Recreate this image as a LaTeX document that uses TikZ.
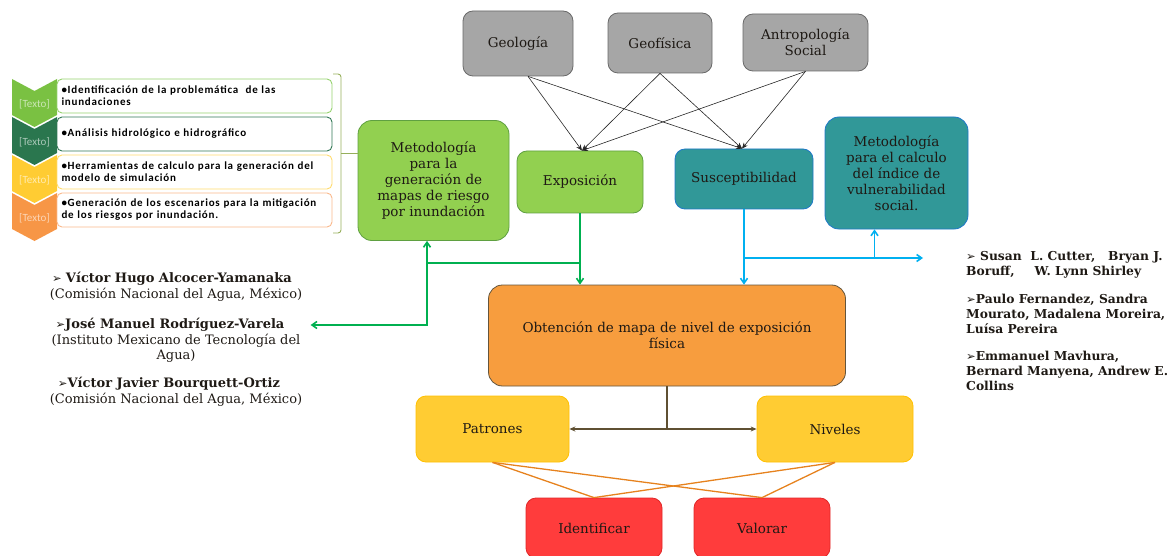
\documentclass[tikz,border=0pt]{standalone}
\usepackage{fontspec}
\setmainfont{DejaVu Serif}
\newfontfamily\listafont[LetterSpace=7]{Carlito}
\newfontfamily\chevfont{Carlito}
\newfontfamily\simbfont{DejaVu Sans}
\usepackage{tikz}
\usetikzlibrary{arrows.meta,calc}
\definecolor{gris}{RGB}{166,166,166}
\definecolor{grisborde}{RGB}{105,105,105}
\definecolor{verdeclaro}{RGB}{146,208,80}
\definecolor{verdeborde}{RGB}{95,160,65}
\definecolor{turquesa}{RGB}{49,152,152}
\definecolor{azulborde}{RGB}{30,120,200}
\definecolor{naranja}{RGB}{247,157,62}
\definecolor{naranjaborde}{RGB}{100,85,60}
\definecolor{cafe}{RGB}{95,80,50}
\definecolor{amarillo}{RGB}{255,204,51}
\definecolor{amarilloborde}{RGB}{255,192,0}
\definecolor{rojo}{RGB}{255,60,60}
\definecolor{rojoborde}{RGB}{225,40,40}
\definecolor{lineaverde}{RGB}{0,176,80}
\definecolor{lineaazul}{RGB}{0,176,240}
\definecolor{lineanaranja}{RGB}{230,130,30}
\definecolor{llave}{RGB}{150,175,90}
\definecolor{paso1}{RGB}{122,193,66}
\definecolor{paso2}{RGB}{42,118,78}
\definecolor{paso3}{RGB}{255,204,51}
\definecolor{paso4}{RGB}{247,150,70}
\definecolor{marco1}{RGB}{150,210,110}
\definecolor{marco2}{RGB}{50,120,85}
\definecolor{marco3}{RGB}{255,220,110}
\definecolor{marco4}{RGB}{250,185,140}
\definecolor{tinta}{RGB}{30,25,20}
\newcommand{\flecha}{{\simbfont\fontsize{11.5}{10}\selectfont ➢}}

\begin{document}
\begin{tikzpicture}[x=1pt, y=-1pt,
    caja/.style={rounded corners=10pt, align=center, line width=0.8pt, text=tinta,
      font=\fontsize{13.5}{16}\selectfont, inner sep=2pt},
    cajagris/.style={caja, fill=gris, draw=grisborde},
    cajaverde/.style={caja, fill=verdeclaro, draw=verdeborde},
    cajaturq/.style={caja, fill=turquesa, draw=azulborde},
    cajanaranja/.style={caja, fill=naranja, draw=naranjaborde},
    cajaamarilla/.style={caja, fill=amarillo, draw=amarilloborde},
    cajaroja/.style={caja, fill=rojo, draw=rojoborde},
    cajalista/.style={rounded corners=5pt, fill=white, line width=0.9pt,
      minimum width=275pt, minimum height=34pt, text width=266pt, align=left,
      font=\listafont\bfseries\fontsize{11}{12}\selectfont, inner sep=3pt},
    textochev/.style={text=white, text opacity=0.6, font=\chevfont\fontsize{11}{12}\selectfont},
    autor/.style={align=center, text=tinta, font=\fontsize{13}{15.5}\selectfont, inner sep=2pt},
    autorder/.style={align=left, text=tinta, font=\bfseries\fontsize{12.3}{15}\selectfont, inner sep=0pt, anchor=north west},
    flechanegra/.style={-{Stealth[length=6pt,width=5pt]}, black!85, line width=0.6pt},
    flechaverde/.style={-{Straight Barb[length=5pt,width=7pt]}, lineaverde, line width=1.6pt},
    flechaazul/.style={-{Straight Barb[length=5pt,width=7pt]}, lineaazul, line width=1.6pt},
    flechacafe/.style={-{Stealth[length=6pt,width=5pt]}, cafe, line width=1.4pt}]

  \useasboundingbox (0,0) rectangle (1172,556);

  % Disciplinas
  \node[cajagris, minimum width=110pt, minimum height=65pt] (geo) at (518,43.5) {Geología};
  \node[cajagris, minimum width=104pt, minimum height=60pt] (geof) at (660,43) {Geofísica};
  \node[cajagris, minimum width=125pt, minimum height=57pt] (antro) at (805.5,42.5) {Antropología\\Social};

  % Metodologias y componentes
  \node[cajaverde, minimum width=151pt, minimum height=120pt, rounded corners=14pt] (meto) at (433.5,180.5)
    {Metodología\\para la\\generación de\\mapas de riesgo\\por inundación};
  \node[cajaverde, minimum width=126pt, minimum height=62pt] (expo) at (580,182) {Exposición};
  \node[cajaturq, minimum width=138pt, minimum height=60pt] (susc) at (744,179) {Susceptibilidad};
  \node[cajaturq, minimum width=143pt, minimum height=112pt, rounded corners=14pt] (metsoc) at (896.5,173)
    {Metodología\\para el calculo\\del índice de\\vulnerabilidad\\social.};

  % Resultado y clasificacion
  \node[cajanaranja, minimum width=357pt, minimum height=101pt, rounded corners=14pt] (obt) at (667,335.5)
    {Obtención de mapa de nivel de exposición\\física};
  \node[cajaamarilla, minimum width=153pt, minimum height=66pt] (patr) at (492.5,429) {Patrones};
  \node[cajaamarilla, minimum width=156pt, minimum height=66pt] (nive) at (835,429) {Niveles};
  \node[cajaroja, minimum width=136pt, minimum height=60pt] (ident) at (594,528) {Identificar};
  \node[cajaroja, minimum width=136pt, minimum height=60pt] (valo) at (762,528) {Valorar};

  % Lista de pasos (chevrones)
  \foreach \yt/\col/\marco/\txt [count=\i] in {
      79/paso1/marco1/{\textbullet Identificación de la problemática\ \ de las\\ inundaciones},
      117/paso2/marco2/{\textbullet Análisis hidrológico e hidrográfico},
      155/paso3/marco3/{\textbullet Herramientas de calculo para la generación del\\ modelo de simulación},
      193/paso4/marco4/{\textbullet Generación de los escenarios para la mitigación\\ de los riesgos por inundación.}} {
    \fill[\col] (12,\yt) -- (34.5,\yt+12) -- (57,\yt) -- (57,\yt+36) -- (34.5,\yt+48) -- (12,\yt+36) -- cycle;
    \node[textochev] (chev\i) at (34.5,\yt+25) {[Texto]};
    \node[cajalista, draw=\marco] (paso\i) at (194.5,\yt+17) {\txt};
  }

  % Llave hacia la metodologia
  \draw[llave, line width=0.9pt, rounded corners=3pt] (333,74) -- (341,74) -- (341,233) -- (333,233);
  \draw[llave, line width=0.9pt] (341,153) -- (341,153 -| meto.west);

  % Flechas de las disciplinas
  \foreach \src/\dx in {geo/10, geof/0, antro/0} {
    \draw[flechanegra] ([xshift=\dx pt]\src.south) -- ([xshift=2pt]expo.north);
    \draw[flechanegra] ([xshift=\dx pt]\src.south) -- ([xshift=-2pt]susc.north);
  }

  % Autores (izquierda)
  \node[autor] (victor) at (172,279) {\flecha\ \textbf{Víctor Hugo Alcocer-Yamanaka}};
  \node[autor] (victorinst) at (176,295) {(Comisión Nacional del Agua, México)};
  \node[autor] (jose) at (170,325) {\flecha\textbf{José Manuel Rodríguez-Varela}};
  \node[autor] (joseinst) at (176,348) {(Instituto Mexicano de Tecnología del\\Agua)};
  \node[autor] (javier) at (169,384) {\flecha\textbf{Víctor Javier Bourquett-Ortiz}};
  \node[autor] (javierinst) at (176,400) {(Comisión Nacional del Agua, México)};

  % Autores (derecha)
  \node[autorder] (cutter) at (966,251) {\flecha\ Susan\ \ L. Cutter,\ \ \ Bryan J.\\Boruff,\hspace{20pt}W. Lynn Shirley};
  \node[autorder] (fernandez) at (966,294) {\flecha Paulo Fernandez, Sandra\\Mourato, Madalena Moreira,\\Luísa Pereira};
  \node[autorder] (mavhura) at (966,351) {\flecha Emmanuel Mavhura,\\Bernard Manyena, Andrew E.\\Collins};

  % Conectores verdes
  \coordinate (vunion) at (427,263);
  \draw[flechaverde] (expo.south) -- (expo.south |- obt.north);
  \draw[lineaverde, line width=1.6pt] (expo.south |- vunion) -- (vunion);
  \draw[flechaverde] (vunion) -- (vunion |- meto.south);
  \draw[flechaverde, shorten >=24pt] (vunion) |- (jose.east);

  % Conectores azules
  \coordinate (aunion) at (744,258);
  \coordinate (afin) at (923,258);
  \draw[flechaazul] (susc.south) -- (susc.south |- obt.north);
  \draw[flechaazul] (aunion) -- (afin);
  \draw[flechaazul] ([xshift=-22pt]metsoc.south |- aunion) -- ([xshift=-22pt]metsoc.south);

  % Clasificacion
  \draw[cafe, line width=1.4pt] (obt.south) -- (obt.south |- patr.east) coordinate (cunion);
  \draw[flechacafe] (cunion) -- (patr.east);
  \draw[flechacafe] (cunion) -- (nive.west);
  \foreach \a in {patr, nive}
    \foreach \b in {ident, valo}
      \draw[lineanaranja, line width=1.3pt] (\a.south) -- (\b.north);

\end{tikzpicture}
\end{document}
